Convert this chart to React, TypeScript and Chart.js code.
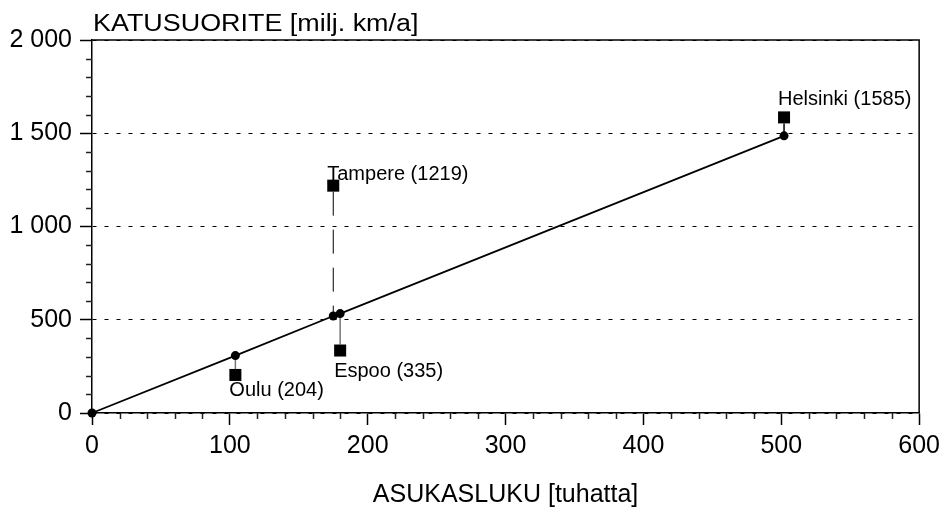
import React, { useEffect, useRef } from 'react';
import { Chart, registerables } from 'chart.js';

Chart.register(...registerables);

// ---- data ----
const cities = ['Oulu', 'Tampere', 'Espoo', 'Helsinki'];
const population = [104, 175, 180, 502]; // ASUKASLUKU [tuhatta]
const actualKm = [204, 1219, 335, 1585]; // KATUSUORITE [milj. km/a]
const fitPopulation = [0, 104, 175, 180, 502];
const fitKm = [0, 308, 520, 533, 1486];
const xTickValues = [0, 100, 200, 300, 400, 500, 600];
const yTickValues = [0, 500, 1000, 1500, 2000];

const yTitle = 'KATUSUORITE [milj. km/a]';
const xTitle = 'ASUKASLUKU [tuhatta]';

// ---- styles (not data) ----
const FONT = "'Liberation Sans', Arial, Helvetica, sans-serif";
const labelDy = [21, -6, 26, -12];
const connectorKind = ['gray', 'dashed', 'gray', 'solid'];

function fmt(v: number): string {
  return String(v).replace(/\B(?=(\d{3})+(?!\d))/g, ' ');
}

const decorPlugin = {
  id: 'decor',
  beforeDatasetsDraw(chart: any) {
    const { ctx } = chart;
    const xs = chart.scales.x;
    const ys = chart.scales.y;
    ctx.save();
    for (let i = 0; i < cities.length; i++) {
      const x = xs.getPixelForValue(population[i]);
      const yA = ys.getPixelForValue(actualKm[i]);
      const yF = ys.getPixelForValue(fitKm[i + 1]);
      const dir = yF > yA ? 1 : -1;
      const start = yA + dir * 6;
      ctx.beginPath();
      const kind = connectorKind[i];
      if (kind === 'dashed') {
        ctx.setLineDash([24, 14]);
        ctx.strokeStyle = '#000';
        ctx.lineWidth = 1;
      } else if (kind === 'gray') {
        ctx.setLineDash([]);
        ctx.strokeStyle = '#777';
        ctx.lineWidth = 1.5;
      } else {
        ctx.setLineDash([]);
        ctx.strokeStyle = '#000';
        ctx.lineWidth = 1.5;
      }
      ctx.moveTo(x, start);
      ctx.lineTo(x, yF);
      ctx.stroke();
    }
    ctx.restore();
  },
  afterDraw(chart: any) {
    const { ctx, chartArea } = chart;
    const xs = chart.scales.x;
    const ys = chart.scales.y;
    ctx.save();
    ctx.setLineDash([]);
    // top and right border
    ctx.strokeStyle = '#000';
    ctx.lineWidth = 1.5;
    ctx.beginPath();
    ctx.moveTo(chartArea.left, chartArea.top);
    ctx.lineTo(chartArea.right, chartArea.top);
    ctx.lineTo(chartArea.right, chartArea.bottom);
    ctx.stroke();
    // minor ticks
    ctx.strokeStyle = '#222';
    ctx.lineWidth = 1.5;
    ctx.beginPath();
    for (let v = ys.min; v <= ys.max; v += 100) {
      if (v % 500 === 0) continue;
      const y = Math.round(ys.getPixelForValue(v)) + 0.5;
      ctx.moveTo(chartArea.left - 6, y);
      ctx.lineTo(chartArea.left, y);
    }
    for (let v = xs.min; v <= xs.max; v += 20) {
      if (v % 100 === 0) continue;
      const x = Math.round(xs.getPixelForValue(v)) + 0.5;
      ctx.moveTo(x, chartArea.bottom);
      ctx.lineTo(x, chartArea.bottom + 6);
    }
    ctx.stroke();
    // point labels
    ctx.fillStyle = '#000';
    ctx.font = `20px ${FONT}`;
    ctx.textAlign = 'left';
    ctx.textBaseline = 'alphabetic';
    for (let i = 0; i < cities.length; i++) {
      const x = xs.getPixelForValue(population[i]);
      const y = ys.getPixelForValue(actualKm[i]);
      ctx.fillText(`${cities[i]} (${actualKm[i]})`, x - 6, y + labelDy[i]);
    }
    // y title (slightly widened like the original)
    ctx.font = `23px ${FONT}`;
    ctx.translate(chartArea.left + 1, chartArea.top - 9);
    ctx.scale(1.17, 1);
    ctx.fillText(yTitle, 0, 0);
    ctx.restore();
  },
};

export default function App() {
  const ref = useRef<HTMLCanvasElement | null>(null);
  useEffect(() => {
    if (!ref.current) return;
    Chart.defaults.font.family = FONT;
    Chart.defaults.color = '#000';
    const chart = new Chart(ref.current, {
      type: 'scatter',
      data: {
        datasets: [
          {
            label: 'fit',
            type: 'line',
            data: fitPopulation.map((x, i) => ({ x, y: fitKm[i] })),
            borderColor: '#000',
            backgroundColor: '#000',
            borderWidth: 1.8,
            pointRadius: 4.5,
            pointBackgroundColor: '#000',
            pointBorderWidth: 0,
            showLine: true,
            tension: 0,
            clip: false,
          },
          {
            label: 'actual',
            data: population.map((x, i) => ({ x, y: actualKm[i] })),
            pointStyle: 'rect',
            pointRadius: 8.5,
            pointBackgroundColor: '#000',
            pointBorderWidth: 0,
            showLine: false,
            clip: false,
          },
        ],
      },
      options: {
        animation: false,
        responsive: true,
        maintainAspectRatio: false,
        layout: { padding: { top: 40, right: 24, left: 0, bottom: 0 } },
        plugins: {
          legend: { display: false },
          tooltip: { enabled: false },
          title: { display: false },
        },
        scales: {
          x: {
            type: 'linear',
            min: 0,
            max: 600,
            afterBuildTicks: (s: any) => {
              s.ticks = xTickValues.map((value) => ({ value }));
            },
            afterFit: (s: any) => {
              s.height = 97;
            },
            ticks: {
              font: { size: 25 },
              color: '#000',
              padding: 6,
              maxRotation: 0,
              callback: (v: any) => fmt(Number(v)),
            },
            grid: {
              drawOnChartArea: false,
              drawTicks: true,
              tickLength: 12,
              tickWidth: 1.5,
              tickColor: '#000',
            },
            border: { display: true, color: '#000', width: 1.5 },
            title: {
              display: true,
              text: xTitle,
              font: { size: 25 },
              color: '#000',
              padding: { top: 0, bottom: 0 },
            },
          },
          y: {
            type: 'linear',
            min: 0,
            max: 2000,
            afterBuildTicks: (s: any) => {
              s.ticks = yTickValues.map((value) => ({ value }));
            },
            afterFit: (s: any) => {
              s.width = 92;
            },
            ticks: {
              font: { size: 25 },
              color: '#000',
              padding: 8,
              callback: (v: any) => fmt(Number(v)),
            },
            grid: {
              drawOnChartArea: true,
              color: '#000',
              lineWidth: 1,
              drawTicks: true,
              tickLength: 12,
              tickWidth: 1.5,
              tickColor: '#000',
            },
            border: { display: true, color: '#000', width: 1.5, dash: [4, 8] },
          },
        },
      },
      plugins: [decorPlugin],
    });
    return () => chart.destroy();
  }, []);
  return (
    <div style={{ position: 'fixed', left: 0, top: 0, width: 946, height: 510, background: '#fff' }}>
      <canvas ref={ref} />
    </div>
  );
}
